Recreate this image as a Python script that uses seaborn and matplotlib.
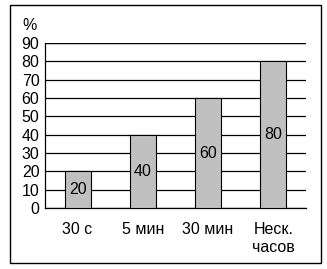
import matplotlib
matplotlib.use("Agg")
import matplotlib.pyplot as plt
import seaborn as sns
import pandas as pd
from matplotlib.patches import Rectangle

categories = ["30 с", "5 мин", "30 мин", "Неск.\nчасов"]
values = [20, 40, 60, 80]
yticks = [0, 10, 20, 30, 40, 50, 60, 70, 80, 90]

sns.set_theme(style="white")
plt.rcParams['font.family'] = ['Liberation Sans', 'DejaVu Sans']

FS = 11.5

df = pd.DataFrame({"cat": categories, "val": values})

fig = plt.figure(figsize=(3.27, 2.69), dpi=100)
ax = fig.add_axes([45/327, 1-208/269, 261/327, 165/269])

sns.barplot(data=df, x="cat", y="val", ax=ax, color="#c0c0c0", saturation=1,
            width=0.4, edgecolor="black", linewidth=0.8, zorder=3)

ax.set_ylim(0, 90)
ax.set_xlim(-0.5, len(categories) - 0.5)
ax.set_yticks(yticks)
ax.set_yticklabels([str(t) for t in yticks], fontsize=FS, color="black")
for t in yticks:
    ax.axhline(t, color="black", linewidth=0.9, zorder=1)
ax.axhline(90, color="black", linewidth=1.6, zorder=1)

ax.set_xticks([i - 0.5 for i in range(len(categories) + 1)], minor=False)
ax.set_xticklabels([])
ax.set_xticks(range(len(categories)), minor=True)
ax.set_xticklabels(categories, minor=True, fontsize=FS, color="black", linespacing=1.3)
ax.tick_params(axis="x", which="minor", length=0, pad=10)
ax.tick_params(axis="x", which="major", direction="out", length=3, width=0.8, color="black")
ax.tick_params(axis="y", direction="out", length=3, width=0.8, color="black", pad=1)

ax.set_xlabel("")
ax.set_ylabel("")
for s in ["top", "right"]:
    ax.spines[s].set_visible(False)
ax.spines["left"].set_color("black")
ax.spines["left"].set_linewidth(0.9)
ax.spines["bottom"].set_color("black")
ax.spines["bottom"].set_linewidth(0.9)

for i, v in enumerate(values):
    ax.text(i, v / 2, str(v), ha="center", va="center", fontsize=FS, color="black", zorder=4)

fig.text(30/327, 1-26/269, "%", ha="center", va="center", fontsize=FS, color="black")

fig.patches.append(Rectangle((10/327, 1-263/269), 311/327, 258/269, transform=fig.transFigure,
                             fill=False, edgecolor="black", linewidth=1.0))

fig.savefig("out.png", dpi=100)
